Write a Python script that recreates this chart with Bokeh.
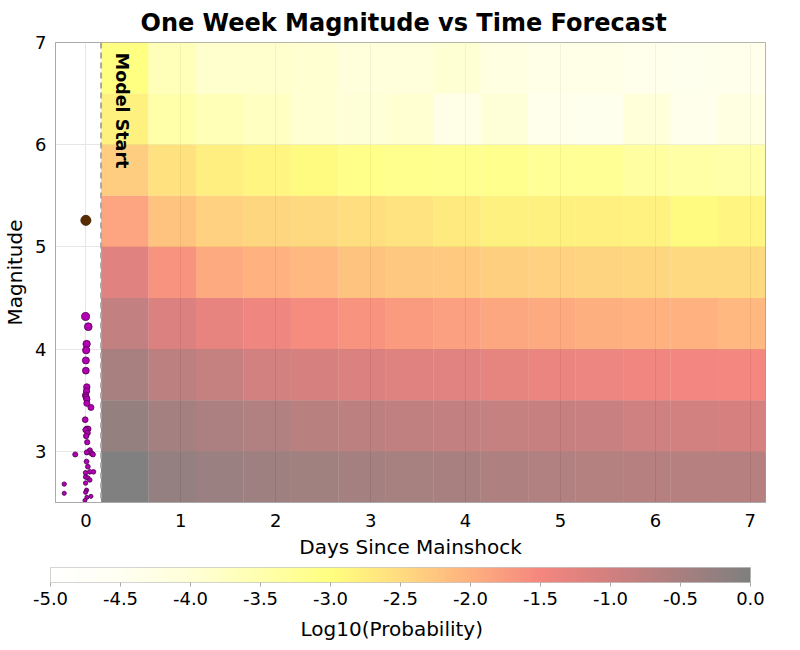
import numpy as np
from bokeh.plotting import figure
from bokeh.models import (LinearColorMapper, ColorBar, FixedTicker, PrintfTickFormatter,
                          Span, Title, ColumnDataSource, Label)
from bokeh.transform import transform
from bokeh.core.properties import value
from bokeh.embed import file_html
from bokeh.resources import INLINE

# ---- data ----
day_bin_start = [0.16, 0.66, 1.16, 1.66, 2.16, 2.66, 3.16, 3.66, 4.16, 4.66, 5.16, 5.66, 6.16, 6.66]
day_bin_width = 0.5
mag_bin_start = [2.5, 3.0, 3.5, 4.0, 4.5, 5.0, 5.5, 6.0, 6.5]
mag_bin_width = 0.5

log10_prob_m25 = [0.0, -0.24, -0.32, -0.38, -0.40, -0.44, -0.48, -0.50, -0.56, -0.60, -0.63, -0.65, -0.66, -0.68]
log10_prob_m30 = [-0.26, -0.44, -0.53, -0.60, -0.69, -0.75, -0.79, -0.81, -0.84, -0.86, -0.89, -0.97, -1.03, -1.06]
log10_prob_m35 = [-0.50, -0.75, -0.84, -1.00, -1.07, -1.14, -1.21, -1.23, -1.29, -1.36, -1.39, -1.46, -1.47, -1.50]
log10_prob_m40 = [-0.81, -1.14, -1.31, -1.43, -1.56, -1.65, -1.74, -1.80, -1.89, -1.92, -1.98, -2.01, -2.03, -2.09]
log10_prob_m45 = [-1.21, -1.65, -1.92, -2.03, -2.09, -2.21, -2.27, -2.29, -2.36, -2.38, -2.41, -2.44, -2.47, -2.48]
log10_prob_m50 = [-1.86, -2.21, -2.38, -2.44, -2.48, -2.53, -2.61, -2.71, -2.81, -2.81, -2.79, -2.83, -2.93, -2.86]
log10_prob_m55 = [-2.33, -2.57, -2.76, -2.86, -2.93, -3.10, -3.13, -3.18, -3.13, -3.23, -3.23, -3.34, -3.39, -3.45]
log10_prob_m60 = [-2.80, -3.45, -3.60, -3.75, -3.94, -4.00, -3.94, -4.28, -4.00, -4.37, -4.43, -4.05, -4.37, -4.19]
log10_prob_m65 = [-3.02, -3.62, -3.88, -3.88, -3.94, -4.10, -4.10, -3.95, -4.19, -4.28, -4.30, -4.37, -4.43, -4.37]

aftershock_days = [-0.003, 0.025, 0.008, 0.003, 0.0, 0.0, 0.01, 0.007, -0.003, 0.003, 0.01, 0.01,
                   0.053, -0.007, 0.01, 0.025, -0.003, 0.018, 0.003, 0.014, 0.042, 0.01, 0.06, 0.074,
                   -0.112, 0.007, 0.021, -0.003, 0.042, 0.08, -0.003, 0.021, 0.042, -0.003, -0.228,
                   0.007, -0.003, -0.228, 0.053, 0.01, -0.01]
aftershock_mags = [4.32, 4.22, 4.05, 3.99, 3.89, 3.79, 3.63, 3.59, 3.55, 3.53, 3.51, 3.47,
                   3.43, 3.31, 3.22, 3.22, 3.21, 3.18, 3.15, 3.09, 3.01, 2.99, 2.98, 2.97,
                   2.97, 2.90, 2.85, 2.79, 2.80, 2.80, 2.75, 2.74, 2.72, 2.69, 2.68,
                   2.62, 2.60, 2.59, 2.56, 2.55, 2.52]
mainshock_day = [0.0]
mainshock_mag = [5.26]

model_start_day = 0.16
cbar_ticks = [-5.0, -4.5, -4.0, -3.5, -3.0, -2.5, -2.0, -1.5, -1.0, -0.5, 0.0]

# ---- colour map (white -> yellow -> red -> black, drawn at half alpha) ----
anchor_vals = [-5.0, -4.5, -4.0, -3.5, -3.0, -2.5, -2.0, -1.5, -1.0, -0.5, 0.0]
anchor_rgb = [(255, 255, 255), (255, 255, 229), (255, 255, 175), (255, 255, 95), (255, 255, 1),
              (255, 185, 1), (255, 99, 1), (235, 15, 1), (165, 1, 1), (85, 1, 1), (1, 1, 1)]
grid_v = np.linspace(-5, 0, 256)
arr = np.array(anchor_rgb, dtype=float)
palette = []
for v in grid_v:
    r = np.interp(v, anchor_vals, arr[:, 0])
    g = np.interp(v, anchor_vals, arr[:, 1])
    b = np.interp(v, anchor_vals, arr[:, 2])
    palette.append("#%02x%02x%02x" % (int(round(r)), int(round(g)), int(round(b))))
mapper = LinearColorMapper(palette=palette, low=-5.0, high=0.0)

rows = [log10_prob_m25, log10_prob_m30, log10_prob_m35, log10_prob_m40, log10_prob_m45,
        log10_prob_m50, log10_prob_m55, log10_prob_m60, log10_prob_m65]
left, right, bottom, top, val = [], [], [], [], []
for mlo, row in zip(mag_bin_start, rows):
    for dlo, v in zip(day_bin_start, row):
        left.append(dlo)
        right.append(dlo + day_bin_width)
        bottom.append(mlo)
        top.append(mlo + mag_bin_width)
        val.append(v)
cells = ColumnDataSource(dict(left=left, right=right, bottom=bottom, top=top, val=val))

FONT = "DejaVu Sans"

p = figure(frame_width=710, frame_height=460, x_range=(-0.32, 7.16), y_range=(2.5, 7.0),
           output_backend="svg", toolbar_location=None,
           title="One Week Magnitude vs Time Forecast",
           min_border_left=10, min_border_right=27, min_border_top=0, min_border_bottom=0)

p.quad(left="left", right="right", bottom="bottom", top="top", source=cells,
       fill_color=transform("val", mapper), fill_alpha=0.5, line_color=None)

p.add_layout(Span(location=model_start_day, dimension="height", line_color="#a8a8a8",
                  line_dash="6 4", line_width=2))
p.add_layout(Label(x=0.385, y=6.9, text="Model Start", angle=-np.pi / 2,
                   text_align="left", text_baseline="middle", text_font=FONT,
                   text_font_size="17.5px", text_font_style="bold", text_color="black"))

sizes = [2.2 * m - 1.5 for m in aftershock_mags]
p.scatter(aftershock_days, aftershock_mags, size=sizes, fill_color="#b400b4",
          line_color="#4a004a", line_width=0.8)
p.scatter(mainshock_day, mainshock_mag, size=[2.2 * m - 1.5 for m in mainshock_mag],
          fill_color="#5a2d00", line_color="#3a1d00", line_width=0.8)

p.title.align = "left"
p.title.offset = 85
p.title.text_font = FONT
p.title.text_font_size = "24px"
p.title.text_font_style = "bold"
p.title.text_color = "black"
p.title.standoff = 12

p.xaxis.axis_label = "Days Since Mainshock"
p.yaxis.axis_label = "Magnitude"
p.xaxis.ticker = FixedTicker(ticks=[0, 1, 2, 3, 4, 5, 6, 7])
p.yaxis.ticker = FixedTicker(ticks=[3, 4, 5, 6, 7])
for ax in (p.xaxis, p.yaxis):
    ax.axis_label_text_font = FONT
    ax.axis_label_text_font_size = "20px"
    ax.axis_label_text_font_style = "normal"
    ax.major_label_text_font = FONT
    ax.major_label_text_font_size = "18px"
    ax.major_label_text_color = "black"
    ax.axis_label_text_color = "black"
    ax.major_tick_line_color = None
    ax.minor_tick_line_color = None
    ax.axis_line_color = "#aaaaaa"
p.yaxis.major_tick_out = 4
p.grid.grid_line_color = "#e6e6e6"
p.outline_line_color = "#aaaaaa"

cbar = ColorBar(color_mapper=mapper, orientation="horizontal", width=700, height=15,
                ticker=FixedTicker(ticks=cbar_ticks),
                formatter=PrintfTickFormatter(format="%.1f"),
                scale_alpha=0.5, major_label_text_font=FONT,
                major_label_text_font_size="18px", major_label_text_color="black",
                bar_line_color="#aaaaaa", major_tick_line_color="#aaaaaa",
                major_tick_in=0, major_tick_out=4, minor_tick_line_color=None,
                location=(-11, 0), padding=6, margin=0)
p.add_layout(cbar, "below")
p.add_layout(Title(text="Log10(Probability)", align="left", offset=245, text_font=FONT,
                   text_font_size="20px", text_font_style="normal", text_color="black",
                   standoff=2), "below")

open("out.html", "w").write(file_html(p, INLINE))
